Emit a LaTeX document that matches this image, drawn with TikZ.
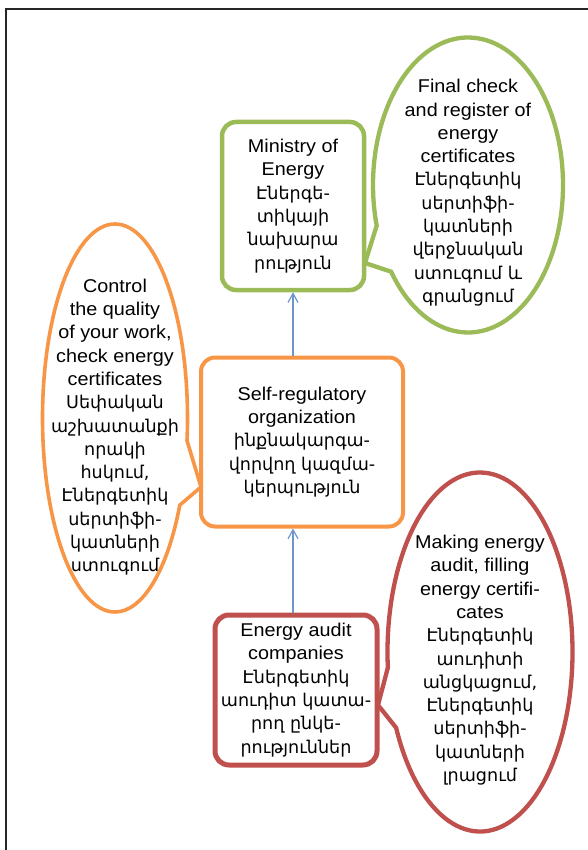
\documentclass[tikz,border=0pt]{standalone}
\usepackage{fontspec}
\setmainfont{Liberation Sans}[FakeStretch=1.07]
\newfontfamily\hy{DejaVu Sans}[Scale=0.95]
\usetikzlibrary{shapes.callouts,arrows.meta}
\definecolor{grn}{RGB}{155,187,89}
\definecolor{orn}{RGB}{247,150,70}
\definecolor{rd}{RGB}{192,80,77}
\definecolor{arr}{RGB}{110,150,205}
\newcommand\bubtext[2][0pt]{\makebox[0pt]{\raisebox{#1}[0pt][0pt]{\parbox{220pt}{\centering #2}}}}
\begin{document}
\begin{tikzpicture}[x=1pt,y=-1pt,
  font=\fontsize{18.5}{23.3}\selectfont,
  box/.style={draw=#1,fill=white,line width=4.5pt,rounded corners=14pt,align=center,inner sep=2pt},
  bubble/.style={ellipse callout,draw=#1,fill=white,line width=4.3pt,inner sep=0pt,callout pointer arc=20},
  link/.style={draw=arr,line width=1.2pt,-{Straight Barb[length=9pt,width=10pt]}}]
  \useasboundingbox (0,0) rectangle (587,850);
  \draw[black!85,line width=2.5pt] (6,851) -- (6,9) -- (588,9);
  \coordinate (gtip) at (365,263);
  \coordinate (otip) at (201,487);
  \coordinate (rtip) at (378,705);
  \node[bubble=grn,minimum width=190pt,minimum height=295pt,callout absolute pointer=(gtip)] (check) at (468,185)
    {\bubtext[-12pt]{Final check\\and register of\\energy\\certificates\\\hy Էներգետիկ\\սերտիֆի-\\կատների\\վերջնական\\ստուգում և\\գրանցում}};
  \node[bubble=orn,line width=3.6pt,minimum width=145pt,minimum height=388pt,callout absolute pointer=(otip)] (control) at (115,418)
    {\bubtext[-13.5pt]{Control\\the quality\\of your work,\\check energy\\certificates\\\hy Սեփական\\աշխատանքի\\որակի\\հսկում,\\Էներգետիկ\\սերտիֆի-\\կատների\\ստուգում}};
  \node[bubble=rd,minimum width=185pt,minimum height=359pt,callout absolute pointer=(rtip)] (making) at (480,652)
    {\bubtext[-12.5pt]{Making energy\\audit, filling\\energy certifi-\\cates\\\hy Էներգետիկ\\աուդիտի\\անցկացում,\\Էներգետիկ\\սերտիֆի-\\կատների\\լրացում}};
  \node[box=grn,minimum width=142pt,minimum height=168pt] (ministry) at (293,206)
    {Ministry of\\Energy\\\hy Էներգե-\\\hy տիկայի\\\hy նախարա\\\hy րություն};
  \node[box=orn,line width=4pt,minimum width=202pt,minimum height=169pt] (sro) at (302,442)
    {Self-regulatory\\organization\\\hy ինքնակարգա-\\\hy վորվող կազմա-\\\hy կերպություն};
  \node[box=rd,line width=5pt,minimum width=162pt,minimum height=150pt] (audit) at (296,690)
    {Energy audit\\companies\\\hy Էներգետիկ\\\hy աուդիտ կատա-\\\hy րող ընկե-\\\hy րություններ};
  \draw[link] (audit.north -| ministry.south) -- (sro.south -| ministry.south);
  \draw[link] (sro.north -| ministry.south) -- (ministry.south);
\end{tikzpicture}
\end{document}
